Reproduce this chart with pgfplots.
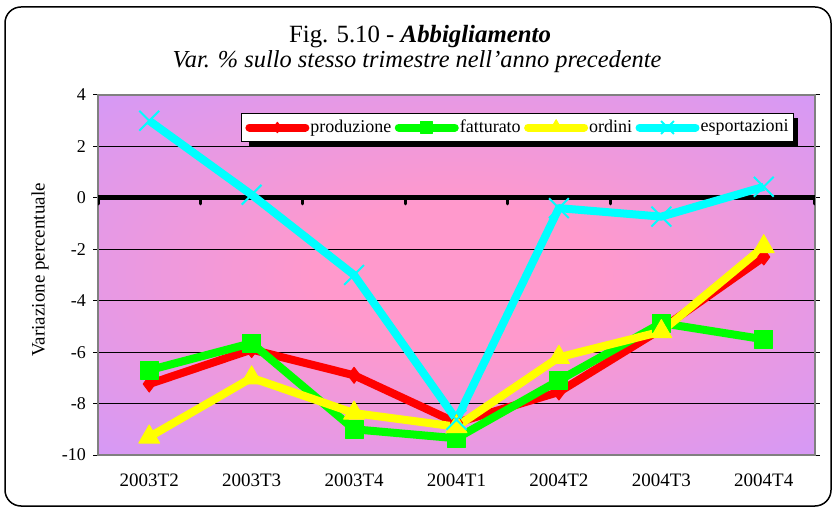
\documentclass[border=0pt]{standalone}
\usepackage{fontspec}
\setmainfont{Liberation Serif}
\usepackage{pgfplots}
\pgfplotsset{compat=1.18}

\definecolor{bgpurple}{RGB}{204,153,255}
\definecolor{bgpink}{RGB}{255,153,204}
\definecolor{cred}{RGB}{255,0,0}
\definecolor{cgreen}{RGB}{0,255,0}
\definecolor{cyellow}{RGB}{255,255,0}
\definecolor{ccyan}{RGB}{0,255,255}
\definecolor{bordergray}{RGB}{128,128,128}

\pgfdeclareradialshading{bgshade}{\pgfpoint{0bp}{0bp}}{color(0bp)=(bgpink); color(10bp)=(bgpink); color(41bp)=(bgpurple); color(72bp)=(bgpurple)}

\begin{document}
\begin{tikzpicture}[x=1pt,y=1pt]
\useasboundingbox (0,0) rectangle (417,254);
\draw[line width=0.75pt, rounded corners=8pt] (2.5,1) rectangle (415.5,250.5);
\node[anchor=base, inner sep=0pt, font=\fontsize{12.4}{14}\selectfont] at (210,232.5) {Fig. 5.10 - \textbf{\textit{Abbigliamento}}};
\node[anchor=base, inner sep=0pt, font=\fontsize{12.2}{14}\selectfont\itshape] at (208.5,220) {Var. \% sullo stesso trimestre nell'anno precedente};
\node[rotate=90, inner sep=0pt, font=\fontsize{9.5}{11}\selectfont] at (20,119) {Variazione percentuale};
\begin{axis}[
  at={(49pt,26.5pt)}, anchor=south west,
  scale only axis, width=358.5pt, height=180pt,
  xmin=-0.5, xmax=6.5, ymin=-10, ymax=4,
  xtick={0,1,2,3,4,5,6},
  xticklabels={2003T2,2003T3,2003T4,2004T1,2004T2,2004T3,2004T4},
  xtick style={draw=none},
  ytick={-10,-8,-6,-4,-2,0,2,4},
  ytick style={black, line width=0.5pt},
  tick align=outside, major tick length=2.5pt,
  ymajorgrids, major grid style={black, line width=0.5pt},
  axis line style={draw=bordergray, line width=1pt},
  axis background/.style={shading=bgshade},
  /pgf/number format/assume math mode=true,
  xticklabel style={font=\fontsize{9.5}{11}\selectfont, yshift=-3.5pt},
  yticklabel style={font=\fontsize{9}{11}\selectfont},
  legend columns=4,
  legend cell align=left,
  legend style={at={(axis description cs:0.585,0.9097)}, anchor=center,
    draw=black, line width=0.5pt, fill=white,
    inner xsep=2pt, inner ysep=2.5pt,
    font=\fontsize{9}{11}\selectfont,
    nodes={inner sep=0.5pt},
    /tikz/every even column/.append style={column sep=1.2pt}},
  legend image code/.code={
    \draw[#1, line cap=round, mark=none] (0pt,0pt) -- (28pt,0pt);
    \draw[#1, every mark/.append style={scale=0.65}] plot coordinates {(14pt,0pt)};
  },
]
\addplot[black, line width=2.5pt, forget plot] coordinates {(-0.5,0) (6.5,0)};
\pgfplotsinvokeforeach{-0.5,0.5,1.5,2.5,3.5,4.5,5.5,6.5}{
  \draw[line width=1.5pt, line cap=round] (axis cs:#1,0) -- ([yshift=-3pt]axis cs:#1,0);
}
% legend shadow
\fill[black] (axis description cs:0.2106,0.8556) rectangle (axis description cs:0.9763,0.936);
\addplot[cred, line width=4pt, line join=round, mark=diamond*, mark size=4pt, mark options={solid, line width=0.5pt}]
  coordinates {(0,-7.24) (1,-5.9) (2,-6.9) (3,-8.75) (4,-7.55) (5,-5.1) (6,-2.3)};
\addlegendentry{produzione}
\addplot[cgreen, line width=4pt, line join=round, mark=square*, mark size=4.5pt, mark options={solid, line width=0.5pt}]
  coordinates {(0,-6.7) (1,-5.65) (2,-9.0) (3,-9.35) (4,-7.1) (5,-4.87) (6,-5.5)};
\addlegendentry{fatturato}
\addplot[cyellow, line width=4pt, line join=round, mark=triangle*, mark size=6pt, mark options={solid, line width=0.5pt}]
  coordinates {(0,-9.3) (1,-7.0) (2,-8.37) (3,-8.9) (4,-6.2) (5,-5.2) (6,-1.9)};
\addlegendentry{ordini}
\addplot[ccyan, line width=4pt, line join=round, mark=x, mark size=7pt, mark options={solid, line width=1pt}]
  coordinates {(0,3.0) (1,0.12) (2,-3.0) (3,-8.63) (4,-0.4) (5,-0.73) (6,0.43)};
\addlegendentry{esportazioni}
\end{axis}
\end{tikzpicture}
\end{document}
